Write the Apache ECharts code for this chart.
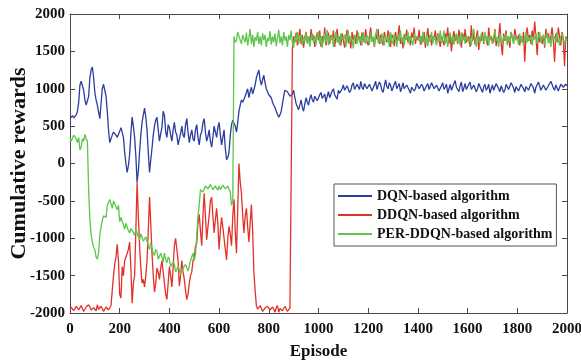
<!DOCTYPE html>
<html>
<head>
<meta charset="utf-8">
<script src="https://cdn.jsdelivr.net/npm/echarts@6/dist/echarts.min.js"></script>
<style>html,body{margin:0;padding:0;background:#fff;}#c{width:581px;height:364px;}</style>
</head>
<body>
<div id="c"></div>
<script>
// Sampled every 5 episodes (0..2000)
const STEP = 5;
const seriesNames = ['DQN-based algorithm', 'DDQN-based algorithm', 'PER-DDQN-based algorithm'];
const xTicks = [0, 200, 400, 600, 800, 1000, 1200, 1400, 1600, 1800, 2000];
const yTicks = [-2000, -1500, -1000, -500, 0, 500, 1000, 1500, 2000];

const dqn = [
  600, 580, 640, 610, 590, 650, 700, 820, 1050, 1100, 1120, 980, 850, 780, 760, 900, 1150, 1250, 1290, 1150,
  950, 850, 780, 690, 600, 800, 1000, 1060, 1080, 900, 700, 450, 280, 330, 380, 420, 420, 380, 350, 390,
  430, 480, 500, 350, 150, 0, -120, -30, 120, 400, 620, 500, 350, 100, -250, -100, 150, 380, 550, 650,
  740, 620, 450, 150, -120, 50, 200, 380, 500, 580, 620, 450, 300, 400, 480, 700, 650, 420, 350, 520,
  480, 380, 300, 450, 550, 420, 380, 250, 250, 400, 500, 380, 350, 520, 600, 420, 280, 380, 450, 330,
  300, 450, 520, 350, 250, 380, 420, 550, 600, 420, 300, 360, 450, 300, 220, 350, 500, 420, 350, 480,
  550, 380, 250, 350, 450, 200, 50, 80, 150, 380, 520, 580, 600, 500, 420, 550, 700, 780, 850, 820,
  800, 900, 950, 1000, 880, 960, 1020, 930, 950, 1050, 1150, 1200, 1250, 1120, 1050, 1120, 1180, 1080, 1000, 960,
  920, 900, 880, 820, 780, 750, 700, 660, 620, 650, 700, 800, 900, 980, 1000, 960, 950, 900, 880, 930,
  980, 880, 800, 760, 720, 780, 850, 750, 700, 800, 880, 820, 780, 870, 920, 850, 820, 900, 900, 840,
  850, 920, 950, 870, 880, 930, 820, 900, 960, 880, 900, 970, 1000, 920, 900, 860, 980, 940, 920, 1000,
  1050, 980, 960, 1040, 1060, 950, 980, 1050, 1080, 990, 970, 1060, 1040, 990, 1100, 1020, 990, 1070, 1060, 1000,
  1000, 1060, 1080, 970, 960, 1050, 1100, 990, 1010, 1090, 1060, 980, 950, 1040, 1120, 1030, 1000, 1080, 1050, 970,
  980, 1060, 1100, 1000, 1020, 1070, 960, 1010, 1080, 1000, 990, 1050, 1060, 980, 940, 1020, 1040, 970, 1000, 1070,
  1090, 1000, 980, 1060, 1030, 970, 950, 1040, 1070, 990, 1010, 1080, 1100, 1000, 980, 1050, 1050, 970, 960, 1040,
  1080, 990, 1020, 1060, 940, 1000, 1060, 980, 990, 1070, 1110, 1020, 1000, 960, 1040, 1090, 960, 1010, 1070, 990,
  1010, 1060, 1090, 990, 970, 1050, 1040, 960, 1000, 1070, 1080, 990, 950, 1030, 1060, 980, 1010, 1060, 940, 1000,
  1050, 980, 1000, 1070, 1090, 1000, 960, 1040, 1030, 950, 980, 1060, 1070, 990, 1000, 1080, 1100, 1010, 950, 1030,
  1040, 970, 990, 1060, 1080, 1000, 960, 1030, 1050, 980, 1000, 1070, 1090, 1010, 940, 1020, 1030, 1090, 1070, 980,
  990, 1050, 1060, 980, 970, 1040, 1040, 1100, 1100, 1010, 980, 1050, 1050, 970, 990, 1060, 1080, 1020, 1000, 1060,
  1040
];

const ddqn = [
  -1950, -1920, -1900, -1970, -1980, -1910, -1930, -1960, -1960, -1900, -1910, -1980, -1990, -1920, -1940, -1890, -1920, -1960, -1970, -1930,
  -1930, -1970, -1890, -1950, -1960, -1910, -1940, -1980, -1990, -1920, -1920, -1960, -1950, -1900, -1900, -1500, -1350, -1250, -1080, -1300,
  -1750, -1800, -1380, -1500, -1300, -1250, -1200, -1150, -1050, -1400, -1870, -1600, -1500, -900, -250, -700, -1100, -1400, -1600, -1550,
  -1650, -1500, -1300, -900, -450, -800, -1200, -1500, -1720, -1600, -1400, -1450, -1550, -1400, -1300, -1450, -1600, -1750, -1820, -1600,
  -1380, -1500, -1650, -1400, -1100, -1000, -1020, -1300, -1640, -1500, -1300, -1450, -1550, -1700, -1820, -1750, -1600, -1500, -1450, -1300,
  -1250, -1100, -1070, -800, -680, -900, -1100, -700, -400, -700, -1020, -850, -700, -500, -450, -700, -930, -750, -600, -800,
  -1150, -900, -720, -850, -1000, -1150, -1290, -1000, -840, -950, -1100, -700, -480, -900, -1200, -600, 0, -250, -400, -700,
  -930, -700, -600, -850, -1050, -800, -550, -900, -1450, -1700, -1900, -1950, -1960, -1900, -1920, -1980, -1990, -1930, -1940, -1910,
  -1910, -1960, -1980, -1920, -1950, -1990, -1930, -1900, -1990, -1940, -1920, -1970, -1960, -1910, -1900, -1980, -1970, -1930, -1940, 1550,
  1700, 1620, 1750, 1580, 1680, 1800, 1600, 1720, 1550, 1690, 1760, 1620, 1700, 1580, 1800, 1650, 1720, 1560, 1680, 1750,
  1650, 1780, 1560, 1700, 1620, 1820, 1580, 1690, 1750, 1600, 1720, 1650, 1780, 1560, 1690, 1800, 1620, 1700, 1580, 1740,
  1720, 1550, 1680, 1790, 1610, 1700, 1540, 1760, 1650, 1720, 1600, 1780, 1660, 1700, 1580, 1750, 1680, 1620, 1800, 1640,
  1580, 1700, 1820, 1630, 1690, 1560, 1740, 1660, 1800, 1600, 1720, 1650, 1580, 1760, 1690, 1620, 1780, 1700, 1560, 1720,
  1690, 1570, 1760, 1640, 1710, 1850, 1600, 1680, 1540, 1730, 1660, 1790, 1620, 1700, 1580, 1750, 1680, 1820, 1600, 1700,
  1650, 1790, 1590, 1700, 1620, 1760, 1550, 1690, 1810, 1630, 1720, 1580, 1700, 1660, 1780, 1600, 1740, 1650, 1560, 1700,
  1700, 1580, 1740, 1660, 1820, 1600, 1720, 1500, 1680, 1770, 1640, 1720, 1600, 1790, 1680, 1550, 1740, 1650, 1800, 1620,
  1620, 1700, 1560, 1850, 1640, 1730, 1590, 1690, 1780, 1520, 1700, 1640, 1760, 1600, 1720, 1680, 1580, 1820, 1650, 1700,
  1700, 1620, 1800, 1570, 1660, 1700, 1880, 1600, 1450, 1740, 1640, 1780, 1600, 1700, 1550, 1760, 1680, 1620, 1800, 1700,
  1650, 1720, 1580, 1700, 1620, 1760, 1360, 1700, 1820, 1640, 1720, 1600, 1780, 1660, 1900, 1700, 1450, 1760, 1620, 1700,
  1600, 1720, 1550, 1800, 1680, 1740, 1620, 1700, 1820, 1650, 1360, 1740, 1620, 1820, 1700, 1580, 1760, 1680, 1300, 1700,
  1650
];

const perDdqn = [
  350, 300, 320, 380, 380, 330, 280, 350, 180, 220, 330, 300, 390, 330, 300, -350, -750, -950, -1050, -1120,
  -1150, -1250, -1280, -1200, -950, -850, -760, -700, -680, -720, -560, -520, -480, -540, -600, -500, -520, -580, -620, -560,
  -780, -720, -700, -820, -880, -800, -820, -900, -930, -870, -850, -920, -960, -880, -900, -980, -1020, -940, -960, -1040,
  -1050, -980, -1000, -1100, -1150, -1060, -1080, -1200, -1230, -1150, -1180, -1280, -1300, -1200, -1250, -1320, -1200, -1280, -1330, -1250,
  -1280, -1380, -1400, -1320, -1350, -1450, -1460, -1370, -1380, -1480, -1480, -1400, -1420, -1350, -1330, -1440, -1450, -1300, -1250, -1200,
  -1300, -1220, -1220, -700, -550, -350, -330, -380, -380, -300, -300, -340, -350, -280, -280, -350, -370, -300, -320, -360,
  -300, -350, -360, -290, -290, -340, -350, -300, -320, -380, -560, -500, 1700, 1620, 1650, 1760, 1780, 1650, 1600, 1720,
  1700, 1620, 1750, 1580, 1680, 1800, 1600, 1720, 1560, 1690, 1640, 1760, 1600, 1700, 1580, 1740, 1650, 1720, 1560, 1680,
  1640, 1770, 1590, 1700, 1620, 1740, 1570, 1680, 1790, 1610, 1700, 1580, 1760, 1640, 1700, 1560, 1720, 1650, 1780, 1600,
  1550, 1700, 1640, 1760, 1600, 1680, 1720, 1580, 1690, 1630, 1750, 1600, 1700, 1560, 1680, 1740, 1620, 1700, 1580, 1720,
  1760, 1600, 1700, 1550, 1680, 1740, 1620, 1790, 1580, 1700, 1650, 1720, 1560, 1690, 1760, 1620, 1700, 1580, 1740, 1660,
  1640, 1720, 1560, 1690, 1780, 1600, 1700, 1650, 1540, 1720, 1680, 1600, 1750, 1620, 1700, 1580, 1760, 1660, 1600, 1720,
  1680, 1590, 1750, 1640, 1700, 1570, 1720, 1800, 1620, 1690, 1600, 1740, 1660, 1580, 1720, 1650, 1700, 1560, 1760, 1640,
  1600, 1740, 1660, 1560, 1710, 1640, 1780, 1620, 1690, 1580, 1720, 1650, 1760, 1600, 1700, 1640, 1580, 1740, 1660, 1700,
  1720, 1640, 1700, 1590, 1760, 1660, 1610, 1730, 1570, 1690, 1640, 1760, 1600, 1700, 1660, 1580, 1720, 1640, 1780, 1620,
  1650, 1780, 1600, 1700, 1560, 1690, 1750, 1620, 1710, 1590, 1680, 1740, 1620, 1700, 1580, 1760, 1650, 1700, 1600, 1720,
  1740, 1620, 1680, 1580, 1700, 1800, 1640, 1560, 1720, 1660, 1600, 1740, 1680, 1620, 1760, 1640, 1700, 1580, 1720, 1660,
  1600, 1710, 1770, 1640, 1690, 1560, 1730, 1650, 1600, 1700, 1660, 1740, 1580, 1700, 1620, 1760, 1680, 1600, 1720, 1650,
  1680, 1590, 1740, 1630, 1700, 1580, 1660, 1760, 1620, 1690, 1640, 1720, 1580, 1700, 1660, 1740, 1600, 1690, 1760, 1620,
  1640, 1720, 1580, 1690, 1750, 1610, 1680, 1560, 1720, 1660, 1700, 1620, 1760, 1640, 1580, 1700, 1740, 1650, 1600, 1680,
  1650
];

const colors = ['#2b3d9e', '#e3312a', '#5ec64c'];
const FONT = '"Liberation Serif", "Times New Roman", serif';
const AX = '#4a4a4a';

function pairs(arr) { return arr.map((v, i) => [i * STEP, v]); }

const chart = echarts.init(document.getElementById('c'), null, { renderer: 'canvas' });

const baseX = {
  type: 'value', min: 0, max: 2000, interval: 200,
  axisLine: { show: true, onZero: false, lineStyle: { color: AX, width: 1 } },
  axisTick: { show: true, inside: true, length: 5, lineStyle: { color: AX } },
  splitLine: { show: false }
};
const baseY = {
  type: 'value', min: -2000, max: 2000, interval: 500,
  axisLine: { show: true, onZero: false, lineStyle: { color: AX, width: 1 } },
  axisTick: { show: true, inside: true, length: 5, lineStyle: { color: AX } },
  splitLine: { show: false }
};

chart.setOption({
  animation: false,
  backgroundColor: '#fff',
  grid: { left: 70, right: 14, top: 14, bottom: 51, containLabel: false, outerBoundsMode: 'none' },
  xAxis: [
    Object.assign({}, baseX, {
      position: 'bottom',
      name: 'Episode', nameLocation: 'middle', nameGap: 30, nameMoveOverlap: false,
      nameTextStyle: { fontFamily: FONT, fontWeight: 'bold', fontSize: 17, color: '#111' },
      axisLabel: { margin: 9, fontFamily: FONT, fontWeight: 'bold', fontSize: 15, color: '#111',
        formatter: v => xTicks.includes(v) ? String(v) : '' }
    }),
    Object.assign({}, baseX, { position: 'top', axisLabel: { show: false } })
  ],
  yAxis: [
    Object.assign({}, baseY, {
      position: 'left',
      name: 'Cumulative rewards', nameLocation: 'middle', nameGap: 40, nameRotate: 90, nameMoveOverlap: false,
      nameTextStyle: { fontFamily: FONT, fontWeight: 'bold', fontSize: 22, color: '#111' },
      axisLabel: { margin: 5, fontFamily: FONT, fontWeight: 'bold', fontSize: 15, color: '#111',
        formatter: v => yTicks.includes(v) ? String(v) : '' }
    }),
    Object.assign({}, baseY, { position: 'right', axisLabel: { show: false } })
  ],
  legend: {
    show: true, orient: 'vertical', left: 334, top: 184,
    backgroundColor: '#fff', borderColor: '#555', borderWidth: 1,
    padding: [4, 4, 4, 4], itemGap: 3, itemWidth: 34, itemHeight: 2, icon: 'rect',
    textStyle: { fontFamily: FONT, fontWeight: 'bold', fontSize: 14, color: '#111', lineHeight: 16 },
    data: seriesNames
  },
  series: [dqn, ddqn, perDdqn].map((arr, k) => ({
    name: seriesNames[k], type: 'line', symbol: 'none', showSymbol: false,
    data: pairs(arr), xAxisIndex: 0, yAxisIndex: 0,
    lineStyle: { color: colors[k], width: 1.3 }, itemStyle: { color: colors[k] },
    emphasis: { disabled: true }, z: 2 + k
  }))
});
</script>
</body>
</html>
